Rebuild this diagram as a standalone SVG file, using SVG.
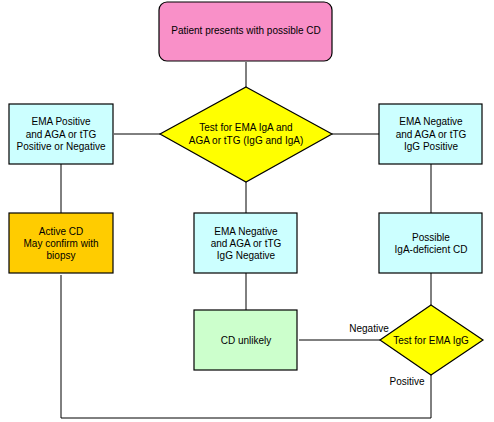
<svg xmlns="http://www.w3.org/2000/svg" width="494" height="422" viewBox="0 0 494 422">
<style>
text{font-family:"Liberation Sans",Arial,sans-serif;font-size:10px;fill:#000;text-anchor:middle}
.n{stroke:#000;stroke-width:1.2}
.c{stroke:#000;stroke-width:1;fill:none}
.cyan{fill:#CCFFFF}
.yel{fill:#FFFF00}
</style>
<rect width="494" height="422" fill="#fff"/>
<g id="connectors">
<line class="c" x1="246" y1="62" x2="246" y2="87"/>
<line class="c" x1="114" y1="134" x2="160" y2="134"/>
<line class="c" x1="332" y1="134" x2="379" y2="134"/>
<line class="c" x1="61" y1="164" x2="61" y2="213"/>
<line class="c" x1="246" y1="182" x2="246" y2="213"/>
<line class="c" x1="431" y1="164" x2="431" y2="213"/>
<line class="c" x1="246" y1="273" x2="246" y2="310"/>
<line class="c" x1="431" y1="273" x2="431" y2="305"/>
<line class="c" x1="299" y1="340" x2="380" y2="340"/>
<polyline class="c" points="61,275 61,418 431,418 431,375"/>
<text x="369" y="332">Negative</text>
<text x="407" y="385">Positive</text>
</g>
<g id="start">
<rect class="n" x="159" y="2" width="173" height="59" rx="8" fill="#F990C8"/>
<text x="246" y="34">Patient presents with possible CD</text>
</g>
<g id="test1">
<polygon class="n yel" points="246,87 332,134 246,182 160,134"/>
<text x="246" y="131">Test for EMA IgA and</text>
<text x="246" y="144">AGA or tTG (IgG and IgA)</text>
</g>
<g id="emaPos">
<rect class="n cyan" x="9" y="104" width="104" height="60"/>
<text x="61" y="125">EMA Positive</text>
<text x="61" y="138">and AGA or tTG</text>
<text x="61" y="150">Positive or Negative</text>
</g>
<g id="emaNegIgGPos">
<rect class="n cyan" x="379" y="104" width="103" height="60"/>
<text x="431" y="125">EMA Negative</text>
<text x="431" y="138">and AGA or tTG</text>
<text x="431" y="150">IgG Positive</text>
</g>
<g id="activeCD">
<rect class="n" x="9" y="213" width="104" height="60" fill="#FFCC00"/>
<text x="61" y="235">Active CD</text>
<text x="61" y="247">May confirm with</text>
<text x="61" y="259">biopsy</text>
</g>
<g id="emaNegIgGNeg">
<rect class="n cyan" x="194" y="213" width="103" height="60"/>
<text x="246" y="235">EMA Negative</text>
<text x="246" y="247">and AGA or tTG</text>
<text x="246" y="259">IgG Negative</text>
</g>
<g id="iga">
<rect class="n cyan" x="379" y="213" width="103" height="60"/>
<text x="431" y="241">Possible</text>
<text x="431" y="253">IgA-deficient CD</text>
</g>
<g id="unlikely">
<rect class="n" x="194" y="310" width="103" height="60" fill="#CCFFCC"/>
<text x="246" y="344">CD unlikely</text>
</g>
<g id="test2">
<polygon class="n yel" points="431,305 483,340 431,375 380,340"/>
<text x="431" y="344">Test for EMA IgG</text>
</g>
</svg>
